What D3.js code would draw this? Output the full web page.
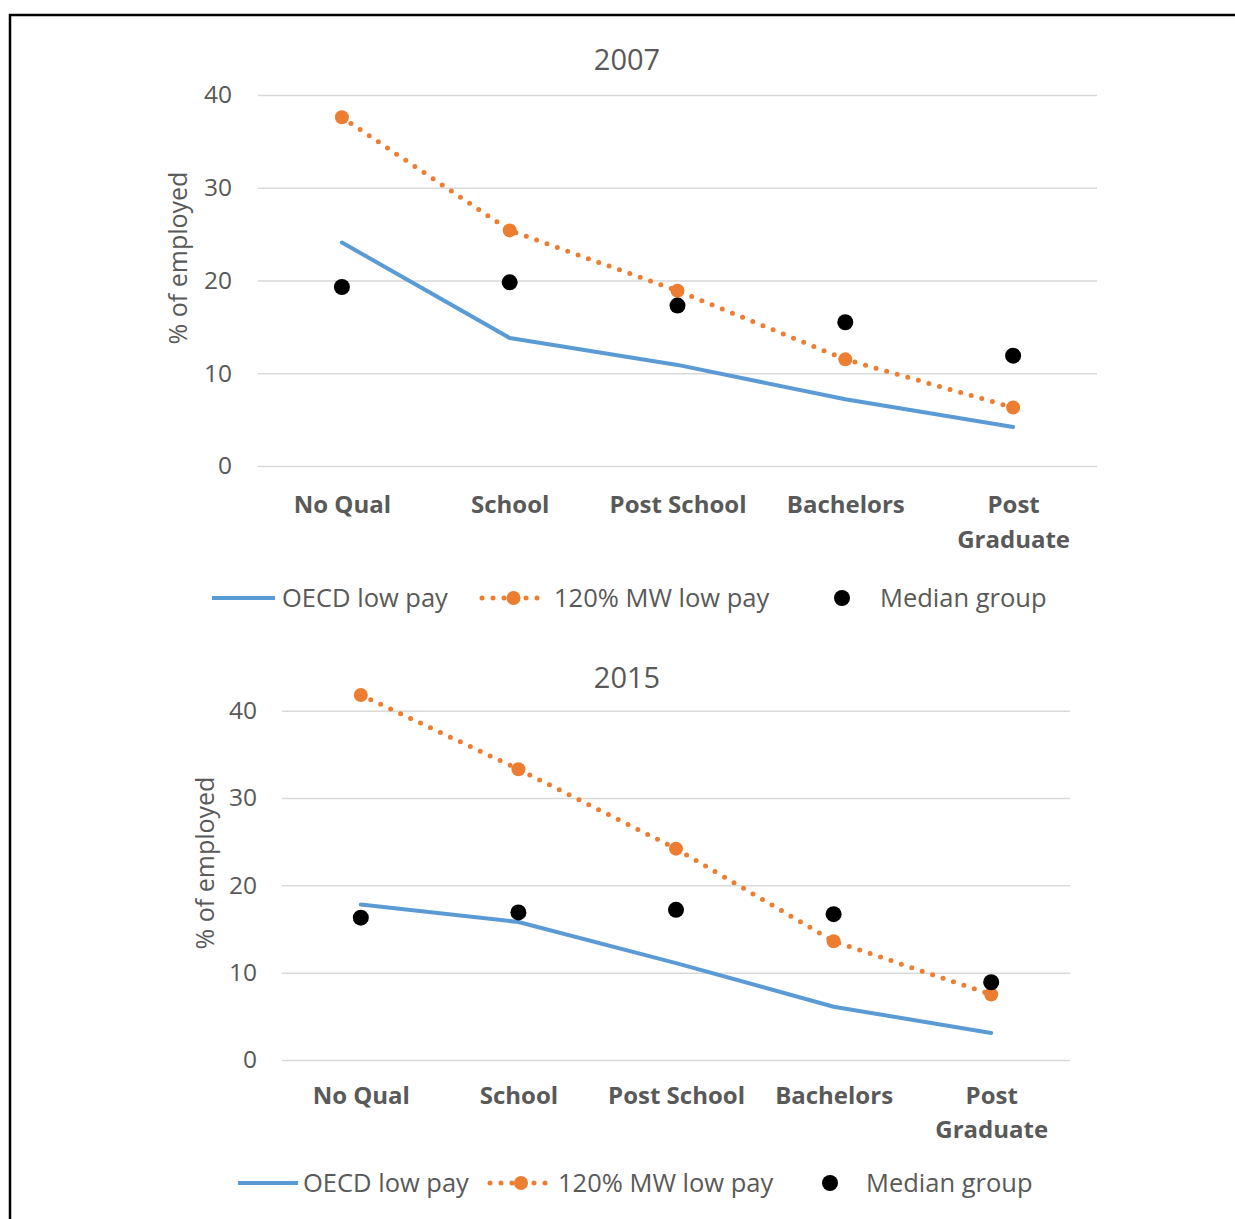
<!DOCTYPE html>
<html>
<head>
<meta charset="utf-8">
<script src="https://cdn.jsdelivr.net/npm/d3@7"></script>
<style>
  html, body { margin: 0; padding: 0; background: #fff; }
  svg { display: block; }
  text { font-family: "Open Sans", sans-serif; fill: #595959; }
</style>
</head>
<body>
<svg id="chart" width="1235" height="1219"></svg>
<script>
// ---- data ----
const categories = ["No Qual", "School", "Post School", "Bachelors", "Post Graduate"];
const categoryLines = [["No Qual"], ["School"], ["Post School"], ["Bachelors"], ["Post", "Graduate"]];
const yTicks = [0, 10, 20, 30, 40];
const seriesNames = ["OECD low pay", "120% MW low pay", "Median group"];

const oecd2007 = [24.1, 13.8, 10.9, 7.2, 4.2];
const mw2007 = [37.6, 25.4, 18.9, 11.5, 6.3];
const median2007 = [19.3, 19.8, 17.3, 15.5, 11.9];

const oecd2015 = [17.8, 15.8, 11.1, 6.1, 3.1];
const mw2015 = [41.8, 33.3, 24.2, 13.6, 7.5];
const median2015 = [16.3, 16.9, 17.2, 16.7, 8.9];

const yTitle = "% of employed";

// ---- styles ----
const BLUE = "#5B9BD5", ORANGE = "#ED7D31", BLACK = "#000000", GRID = "#d9d9d9";

const svg = d3.select("#chart");

// outer border
svg.append("rect")
  .attr("x", 10).attr("y", 15)
  .attr("width", 1240).attr("height", 1240)
  .attr("fill", "none").attr("stroke", "#000").attr("stroke-width", 2.5);

function drawChart(cfg, title, oecd, mw, median) {
  const g = svg.append("g");
  const x = d3.scalePoint().domain(categories).range([cfg.x0, cfg.x1]).padding(0.5);
  const y = d3.scaleLinear().domain([0, 40]).range([cfg.y0, cfg.y40]);

  // title
  g.append("text").attr("x", cfg.titleX).attr("y", cfg.titleY)
    .attr("text-anchor", "middle").style("font-size", "29px").text(title);

  // y axis (gridlines + labels)
  const yAxis = d3.axisLeft(y).tickValues(yTicks).tickSize(-(cfg.x1 - cfg.x0)).tickPadding(cfg.tickPad);
  const ya = g.append("g").attr("transform", `translate(${cfg.x0},0)`).call(yAxis);
  ya.select(".domain").remove();
  ya.selectAll(".tick line").attr("stroke", GRID).attr("stroke-width", 1.5);
  ya.selectAll(".tick text").style("font-size", "24.5px").attr("fill", "#595959")
    .style("font-family", "'Open Sans', sans-serif");

  // y title
  g.append("text")
    .attr("transform", `translate(${cfg.yTitleX},${cfg.yTitleY}) rotate(-90)`)
    .attr("text-anchor", "middle").attr("dy", "0.35em")
    .style("font-size", "25px").text(yTitle);

  // x axis labels
  const xAxis = d3.axisBottom(x).tickSize(0).tickFormat("");
  const xa = g.append("g").attr("transform", `translate(0,${cfg.y0})`).call(xAxis);
  xa.select(".domain").remove();
  xa.selectAll(".tick").each(function(d, i) {
    const t = d3.select(this).append("text")
      .attr("text-anchor", "middle")
      .style("font-size", "24px").style("font-weight", "bold")
      .attr("fill", "#595959").style("font-family", "'Open Sans', sans-serif");
    categoryLines[i].forEach((ln, j) => {
      t.append("tspan").attr("x", 0).attr("y", cfg.catBase - cfg.y0 + j * cfg.catLine).text(ln);
    });
  });

  // OECD line
  const line = d3.line().x((d, i) => x(categories[i])).y(d => y(d));
  g.append("path").datum(oecd).attr("d", line)
    .attr("fill", "none").attr("stroke", BLUE).attr("stroke-width", 4)
    .attr("stroke-linejoin", "round").attr("stroke-linecap", "round");

  // MW dotted line
  g.append("path").datum(mw).attr("d", line)
    .attr("fill", "none").attr("stroke", ORANGE).attr("stroke-width", 5)
    .attr("stroke-dasharray", "0 11").attr("stroke-linecap", "round");
  g.selectAll(".mwdot").data(mw).enter().append("circle")
    .attr("cx", (d, i) => x(categories[i])).attr("cy", d => y(d))
    .attr("r", 7).attr("fill", ORANGE);

  // median dots
  g.selectAll(".meddot").data(median).enter().append("circle")
    .attr("cx", (d, i) => x(categories[i])).attr("cy", d => y(d))
    .attr("r", 8).attr("fill", BLACK);

  // legend
  const ly = cfg.legY;
  const L = cfg.leg;
  g.append("line").attr("x1", L[0]).attr("x2", L[1]).attr("y1", ly).attr("y2", ly)
    .attr("stroke", BLUE).attr("stroke-width", 4);
  g.append("text").attr("x", L[2]).attr("y", ly).attr("dy", "0.35em")
    .style("font-size", "25.5px").text(seriesNames[0]);
  g.append("line").attr("x1", L[3]).attr("x2", L[4]).attr("y1", ly).attr("y2", ly)
    .attr("stroke", ORANGE).attr("stroke-width", 5)
    .attr("stroke-dasharray", "0 11").attr("stroke-linecap", "round");
  g.append("circle").attr("cx", (L[3] + L[4]) / 2).attr("cy", ly).attr("r", 7).attr("fill", ORANGE);
  g.append("text").attr("x", L[5]).attr("y", ly).attr("dy", "0.35em")
    .style("font-size", "25.5px").text(seriesNames[1]);
  g.append("circle").attr("cx", L[6]).attr("cy", ly).attr("r", 8).attr("fill", BLACK);
  g.append("text").attr("x", L[7]).attr("y", ly).attr("dy", "0.35em")
    .style("font-size", "25.5px").text(seriesNames[2]);
}

drawChart({
  x0: 258, x1: 1097, y0: 466, y40: 95, tickPad: 26,
  titleX: 627, titleY: 70, yTitleX: 178, yTitleY: 258,
  catBase: 513, catLine: 35, legY: 598,
  leg: [212, 275, 282, 482, 545, 554, 842, 880]
}, "2007", oecd2007, mw2007, median2007);

drawChart({
  x0: 282, x1: 1070, y0: 1060, y40: 710.7, tickPad: 25,
  titleX: 627, titleY: 688, yTitleX: 205, yTitleY: 863,
  catBase: 1104, catLine: 34, legY: 1183,
  leg: [238, 298, 303, 490, 552, 558, 830, 866]
}, "2015", oecd2015, mw2015, median2015);
</script>
</body>
</html>
